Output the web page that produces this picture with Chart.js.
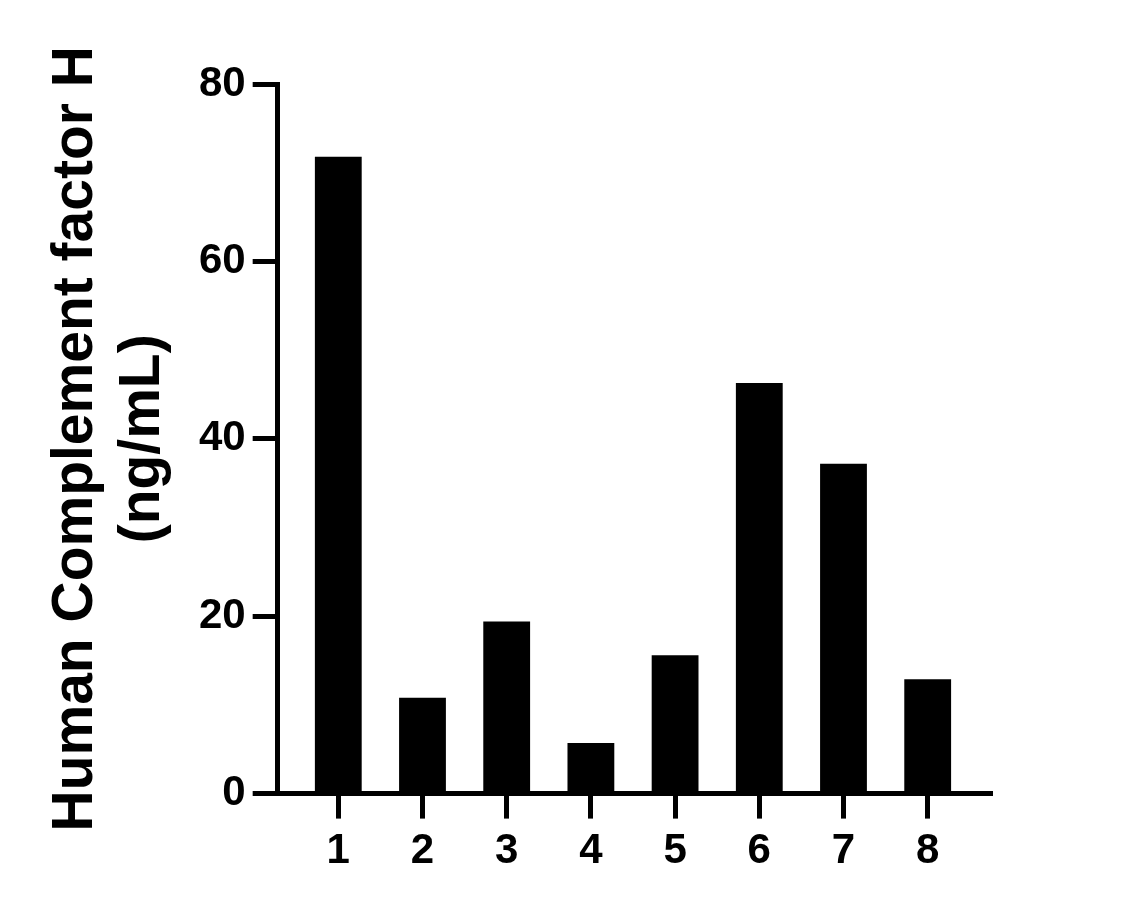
<!DOCTYPE html>
<html>
<head>
<meta charset="utf-8">
<title>Human Complement factor H</title>
<script src="https://cdn.jsdelivr.net/npm/chart.js@4/dist/chart.umd.min.js"></script>
<style>
  html, body { margin: 0; padding: 0; background: #fff; }
  #wrap { width: 1126px; height: 909px; }
</style>
</head>
<body>
<div id="wrap"><canvas id="chart" width="1126" height="909"></canvas></div>
<script>
// sample number on the x axis
var categories = [1, 2, 3, 4, 5, 6, 7, 8];
// concentration, ng/mL
var values = [71.8, 10.8, 19.4, 5.7, 15.6, 46.3, 37.2, 12.9];
var yTicks = [0, 20, 40, 60, 80];
var yTitle = ["Human Complement factor H", "(ng/mL)"];

var FONT = "'Liberation Sans', Arial, Helvetica, sans-serif";

document.addEventListener("DOMContentLoaded", function () {
  var points = categories.map(function (c, i) { return { x: c, y: values[i] }; });

  new Chart(document.getElementById("chart"), {
    type: "bar",
    data: {
      datasets: [{
        data: points,
        backgroundColor: "#000",
        borderWidth: 0,
        barPercentage: 0.556,
        categoryPercentage: 1
      }]
    },
    options: {
      responsive: false,
      animation: false,
      layout: { padding: { left: 43, top: 84, right: 136, bottom: 24 } },
      plugins: { legend: { display: false }, tooltip: { enabled: false } },
      scales: {
        x: {
          type: "linear",
          offset: false,
          min: 0.28,
          max: 8.74,
          afterBuildTicks: function (scale) {
            scale.ticks = categories.map(function (c) { return { value: c }; });
          },
          grid: { offset: false, drawOnChartArea: false, tickLength: 25, lineWidth: 5, color: "#000" },
          border: { color: "#000", width: 5 },
          ticks: { color: "#000", padding: 8, font: { family: FONT, size: 42, weight: "bold" } }
        },
        y: {
          min: 0,
          max: 80,
          afterBuildTicks: function (scale) {
            scale.ticks = yTicks.map(function (v) { return { value: v }; });
          },
          grid: { drawOnChartArea: false, tickLength: 25, lineWidth: 5, color: "#000" },
          border: { color: "#000", width: 5 },
          ticks: { color: "#000", padding: 7, font: { family: FONT, size: 42, weight: "bold" } },
          title: {
            display: true,
            text: yTitle,
            color: "#000",
            padding: { top: 0, bottom: 15 },
            font: { family: FONT, size: 57, weight: "bold", lineHeight: 1.175 }
          }
        }
      }
    }
  });
});
</script>
</body>
</html>
